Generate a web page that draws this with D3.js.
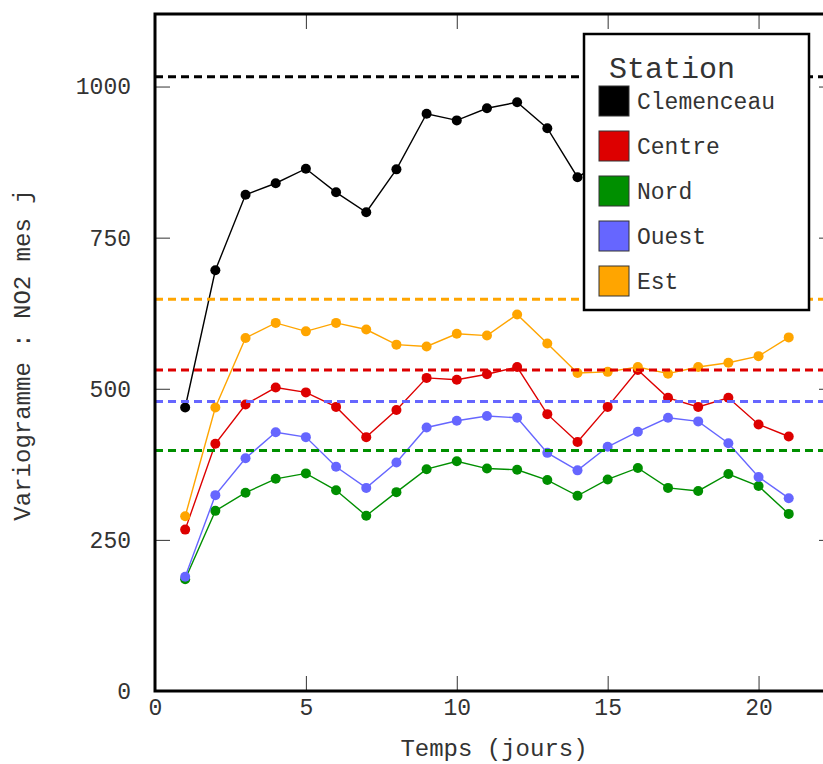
<!DOCTYPE html>
<html>
<head>
<meta charset="utf-8">
<script src="https://cdn.jsdelivr.net/npm/d3@7"></script>
<style>
  html, body { margin: 0; padding: 0; background: #fff; }
  svg { display: block; }
  text { font-family: "Liberation Mono", "Courier New", monospace; fill: #333; }
</style>
</head>
<body>
<svg id="chart" width="823" height="764"></svg>
<script>
// Days of lag
const days = d3.range(1, 22);

// Station names, colours and variogram values per day
const stations = ["Clemenceau", "Centre", "Nord", "Ouest", "Est"];
const colors = ["#000000", "#DD0000", "#008F00", "#6666FF", "#FFA500"];

const clemenceau = [469, 696, 821, 840, 864, 825, 792, 863, 955, 944, 964, 974, 931, 850, 880, 900, 870, 890, 875, 895, 885];
const centre     = [267, 409, 474, 502, 494, 470, 420, 465, 518, 515, 524, 536, 458, 412, 470, 531, 485, 470, 485, 441, 421];
const nord       = [185, 298, 328, 351, 360, 332, 290, 329, 367, 380, 368, 366, 349, 323, 350, 369, 336, 331, 359, 339, 293];
const ouest      = [189, 324, 385, 428, 420, 371, 336, 378, 436, 447, 455, 452, 394, 365, 404, 429, 452, 446, 410, 354, 319];
const est        = [289, 469, 584, 609, 595, 609, 598, 573, 570, 591, 588, 623, 575, 526, 528, 536, 525, 536, 543, 554, 585];

// Sill (variance) of each station, drawn as dashed reference lines
const sills = [1016, 531, 398, 479, 648];

// Tick values
const xTicks = [0, 5, 10, 15, 20];
const yTicks = [0, 250, 500, 750, 1000];

const series = [clemenceau, centre, nord, ouest, est];

const svg = d3.select("#chart");
const pL = 155, pR = 834, pT = 14, pB = 691;

const x = d3.scaleLinear().domain([0, 22.5]).range([pL, pR]);
const y = d3.scaleLinear().domain([0, 1120]).range([pB, pT]);

svg.append("clipPath").attr("id", "plot-clip")
  .append("rect").attr("x", pL).attr("y", pT)
  .attr("width", pR - pL).attr("height", pB - pT);

const plot = svg.append("g").attr("clip-path", "url(#plot-clip)");

// Inward ticks on all four sides
const tickLen = 15;
const fmt = d3.format("d");
const axisStyle = g => {
  g.select(".domain").remove();
  g.selectAll(".tick line").attr("stroke", "#333").attr("stroke-width", 1);
  g.selectAll(".tick text")
    .style("font-family", '"Liberation Mono", "Courier New", monospace')
    .style("font-size", "23px").attr("fill", "#444");
};

svg.append("g").attr("transform", `translate(0,${pB})`)
  .call(d3.axisBottom(x).tickValues(xTicks).tickFormat(fmt).tickSizeInner(-tickLen).tickSizeOuter(0).tickPadding(8))
  .call(axisStyle);
svg.append("g").attr("transform", `translate(0,${pT})`)
  .call(d3.axisTop(x).tickValues(xTicks).tickSizeInner(-tickLen).tickSizeOuter(0).tickFormat(""))
  .call(axisStyle);
svg.append("g").attr("transform", `translate(${pL},0)`)
  .call(d3.axisLeft(y).tickValues(yTicks).tickFormat(fmt).tickSizeInner(-tickLen).tickSizeOuter(0).tickPadding(24))
  .call(axisStyle);
svg.append("g").attr("transform", `translate(${pR},0)`)
  .call(d3.axisRight(y).tickValues(yTicks).tickSizeInner(-tickLen).tickSizeOuter(0).tickFormat(""))
  .call(axisStyle);

// Series: line + points
const line = d3.line().x((d, i) => x(days[i])).y(d => y(d));
series.forEach((vals, k) => {
  const g = plot.append("g");
  g.append("path").datum(vals)
    .attr("d", line).attr("fill", "none")
    .attr("stroke", colors[k]).attr("stroke-width", 1.4);
  g.selectAll("circle").data(vals).join("circle")
    .attr("cx", (d, i) => x(days[i])).attr("cy", d => y(d))
    .attr("r", 5).attr("fill", colors[k]);
});

// Dashed sill lines
sills.forEach((s, k) => {
  plot.append("line")
    .attr("x1", pL).attr("x2", pR)
    .attr("y1", y(s)).attr("y2", y(s))
    .attr("stroke", colors[k]).attr("stroke-width", 3)
    .attr("stroke-dasharray", "8,5");
});

// Frame (left, bottom, top; right edge sits past the viewport)
svg.append("path")
  .attr("d", `M${pR},${pT}H${pL}V${pB}H${pR}V${pT}`)
  .attr("fill", "none").attr("stroke", "#000").attr("stroke-width", 3);

// Axis titles
svg.append("text")
  .attr("x", 494).attr("y", 756)
  .attr("text-anchor", "middle").style("font-size", "24px").attr("fill", "#444")
  .text("Temps (jours)");
svg.append("text")
  .attr("transform", `translate(30,${355}) rotate(-90)`)
  .attr("text-anchor", "middle").style("font-size", "24px").attr("fill", "#444")
  .text("Variogramme : NO2 mes j");

// Legend
const lg = svg.append("g").attr("transform", "translate(584,34)");
lg.append("rect").attr("width", 225).attr("height", 276)
  .attr("fill", "#fff").attr("stroke", "#000").attr("stroke-width", 2.5);
lg.append("text").attr("x", 25).attr("y", 44)
  .style("font-size", "30px").attr("fill", "#333").text("Station");
stations.forEach((name, k) => {
  const cy = 67 + k * 45;
  lg.append("rect").attr("x", 15).attr("y", cy - 15).attr("width", 30).attr("height", 30)
    .attr("fill", colors[k]).attr("stroke", "#333").attr("stroke-width", 1);
  lg.append("text").attr("x", 53).attr("y", cy).attr("dy", "0.35em")
    .style("font-size", "23px").attr("fill", "#333").text(name);
});
</script>
</body>
</html>
